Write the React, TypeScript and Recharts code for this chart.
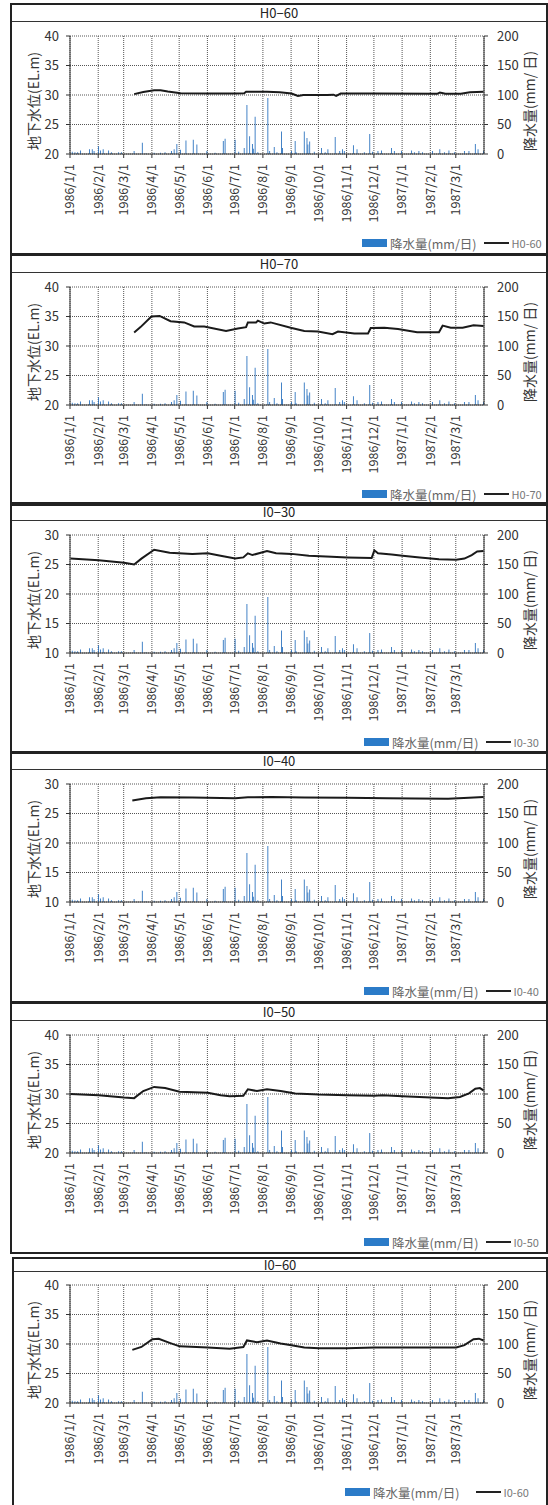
import React from 'react';
import { ComposedChart, Bar, Line, XAxis, YAxis, CartesianGrid } from 'recharts';

const FONT = "'Noto Sans CJK JP', 'Noto Sans', sans-serif";

// month-start ticks of the date axis (axis runs to 1987/4/1)
const MONTH_TICKS = [
  '1986/1/1', '1986/2/1', '1986/3/1', '1986/4/1', '1986/5/1', '1986/6/1', '1986/7/1', '1986/8/1',
  '1986/9/1', '1986/10/1', '1986/11/1', '1986/12/1', '1987/1/1', '1987/2/1', '1987/3/1',
];
const AXIS_START = '1986/1/1';
const AXIS_END = '1987/4/1';

const LEVEL_TICKS_HIGH = [20, 25, 30, 35, 40];
const LEVEL_TICKS_LOW = [10, 15, 20, 25, 30];
const RAIN_TICKS = [0, 50, 100, 150, 200];

// daily rainfall (mm/day), days not listed had no rain
const RAIN: [string, number][] = [
  ['1986/1/3', 4], ['1986/1/6', 3], ['1986/1/9', 3], ['1986/1/12', 6], ['1986/1/22', 8], ['1986/1/25', 8],
  ['1986/1/27', 5], ['1986/2/1', 13], ['1986/2/3', 6], ['1986/2/6', 8], ['1986/2/12', 6], ['1986/2/15', 3],
  ['1986/2/23', 3], ['1986/2/26', 3], ['1986/3/12', 5], ['1986/3/21', 19], ['1986/3/25', 1], ['1986/4/3', 2],
  ['1986/4/10', 2], ['1986/4/15', 3], ['1986/4/22', 5], ['1986/4/25', 8], ['1986/4/28', 17], ['1986/5/2', 7],
  ['1986/5/8', 23], ['1986/5/16', 24], ['1986/5/20', 16], ['1986/5/31', 5], ['1986/6/9', 2], ['1986/6/18', 22],
  ['1986/6/20', 26], ['1986/7/1', 24], ['1986/7/5', 4], ['1986/7/11', 10], ['1986/7/14', 83], ['1986/7/17', 30],
  ['1986/7/20', 17], ['1986/7/21', 9], ['1986/7/23', 63], ['1986/7/26', 3], ['1986/8/6', 95], ['1986/8/8', 5],
  ['1986/8/13', 12], ['1986/8/16', 3], ['1986/8/21', 38], ['1986/8/22', 10], ['1986/9/1', 5], ['1986/9/5', 22],
  ['1986/9/6', 3], ['1986/9/15', 38], ['1986/9/18', 27], ['1986/9/19', 16], ['1986/9/21', 21], ['1986/9/26', 4],
  ['1986/10/4', 10], ['1986/10/8', 3], ['1986/10/11', 8], ['1986/10/19', 29], ['1986/10/24', 5], ['1986/10/27', 8],
  ['1986/10/29', 5], ['1986/11/8', 15], ['1986/11/12', 8], ['1986/11/20', 3], ['1986/11/26', 34], ['1986/11/29', 4],
  ['1986/12/5', 5], ['1986/12/9', 6], ['1986/12/20', 10], ['1986/12/23', 5], ['1986/12/31', 5], ['1987/1/11', 6],
  ['1987/1/14', 3], ['1987/1/19', 5], ['1987/1/23', 3], ['1987/2/3', 5], ['1987/2/11', 8], ['1987/2/16', 3],
  ['1987/2/21', 6], ['1987/2/27', 3], ['1987/3/10', 5], ['1987/3/15', 5], ['1987/3/22', 17], ['1987/3/25', 8],
  ['1987/3/31', 5],
];

// groundwater level readings (EL.m)
const LEVEL_H0_60: [string, number][] = [
  ['1986/3/12', 30.15], ['1986/3/22', 30.5], ['1986/4/3', 30.8], ['1986/4/10', 30.8], ['1986/4/18', 30.6],
  ['1986/5/2', 30.3], ['1986/6/3', 30.25], ['1986/6/30', 30.25], ['1986/7/11', 30.3], ['1986/7/13', 30.55],
  ['1986/8/5', 30.55], ['1986/8/19', 30.45], ['1986/9/1', 30.25], ['1986/9/8', 29.85], ['1986/9/14', 30.0],
  ['1986/10/10', 30.0], ['1986/10/17', 30.05], ['1986/10/20', 29.85], ['1986/10/25', 30.25], ['1986/12/1', 30.25],
  ['1987/2/8', 30.2], ['1987/2/11', 30.4], ['1987/2/17', 30.2], ['1987/3/6', 30.2], ['1987/3/16', 30.45],
  ['1987/3/31', 30.55],
];
const LEVEL_H0_70: [string, number][] = [
  ['1986/3/12', 32.3], ['1986/3/19', 33.2], ['1986/3/31', 35.0], ['1986/4/9', 35.1], ['1986/4/21', 34.2],
  ['1986/5/6', 34.0], ['1986/5/17', 33.3], ['1986/5/28', 33.3], ['1986/6/21', 32.55], ['1986/7/4', 32.95],
  ['1986/7/13', 33.2], ['1986/7/15', 34.0], ['1986/7/24', 34.0], ['1986/7/26', 34.3], ['1986/8/2', 33.8],
  ['1986/8/9', 34.0], ['1986/8/31', 33.1], ['1986/9/15', 32.55], ['1986/9/30', 32.45], ['1986/10/16', 32.0],
  ['1986/10/22', 32.45], ['1986/11/9', 32.1], ['1986/11/24', 32.1], ['1986/11/27', 33.05], ['1986/12/12', 33.1],
  ['1986/12/27', 32.9], ['1987/1/17', 32.35], ['1987/2/10', 32.35], ['1987/2/14', 33.45], ['1987/2/23', 33.1],
  ['1987/3/8', 33.1], ['1987/3/20', 33.5], ['1987/3/31', 33.4],
];
const LEVEL_I0_30: [string, number][] = [
  ['1986/1/1', 26.0], ['1986/2/1', 25.7], ['1986/3/1', 25.3], ['1986/3/12', 25.0], ['1986/3/20', 26.0],
  ['1986/4/3', 27.5], ['1986/4/20', 27.0], ['1986/5/15', 26.8], ['1986/6/1', 26.9], ['1986/6/15', 26.5],
  ['1986/7/1', 26.0], ['1986/7/10', 26.2], ['1986/7/15', 26.9], ['1986/7/20', 26.6], ['1986/8/5', 27.3],
  ['1986/8/15', 26.9], ['1986/9/1', 26.8], ['1986/9/20', 26.5], ['1986/10/15', 26.3], ['1986/11/1', 26.2],
  ['1986/11/28', 26.1], ['1986/12/1', 27.4], ['1986/12/5', 26.9], ['1986/12/20', 26.7], ['1987/1/1', 26.5],
  ['1987/1/20', 26.2], ['1987/2/10', 25.9], ['1987/3/1', 25.8], ['1987/3/10', 26.0], ['1987/3/18', 26.6],
  ['1987/3/24', 27.2], ['1987/3/31', 27.3],
];
const LEVEL_I0_40: [string, number][] = [
  ['1986/3/10', 27.2], ['1986/3/25', 27.6], ['1986/4/10', 27.75], ['1986/5/15', 27.7], ['1986/7/1', 27.6],
  ['1986/7/15', 27.75], ['1986/8/10', 27.8], ['1986/9/15', 27.7], ['1986/11/1', 27.65], ['1986/12/15', 27.6],
  ['1987/1/15', 27.55], ['1987/2/20', 27.5], ['1987/3/15', 27.65], ['1987/3/31', 27.8],
];
const LEVEL_I0_50: [string, number][] = [
  ['1986/1/1', 30.0], ['1986/2/1', 29.8], ['1986/3/1', 29.4], ['1986/3/12', 29.3], ['1986/3/22', 30.5],
  ['1986/4/3', 31.2], ['1986/4/15', 31.0], ['1986/5/1', 30.4], ['1986/6/1', 30.2], ['1986/6/15', 29.8],
  ['1986/6/25', 29.6], ['1986/7/10', 29.7], ['1986/7/15', 30.8], ['1986/7/25', 30.5], ['1986/8/5', 30.8],
  ['1986/8/20', 30.5], ['1986/9/5', 30.1], ['1986/10/1', 29.9], ['1986/11/1', 29.8], ['1986/12/1', 29.7],
  ['1986/12/10', 29.8], ['1987/1/1', 29.6], ['1987/2/1', 29.4], ['1987/2/20', 29.3], ['1987/3/5', 29.5],
  ['1987/3/15', 30.1], ['1987/3/22', 30.9], ['1987/3/27', 31.0], ['1987/3/31', 30.6],
];
const LEVEL_I0_60: [string, number][] = [
  ['1986/3/10', 29.0], ['1986/3/20', 29.5], ['1986/4/1', 30.8], ['1986/4/8', 30.9], ['1986/4/20', 30.2],
  ['1986/5/1', 29.6], ['1986/6/1', 29.4], ['1986/6/25', 29.2], ['1986/7/10', 29.5], ['1986/7/14', 30.6],
  ['1986/7/25', 30.3], ['1986/8/5', 30.6], ['1986/8/20', 30.1], ['1986/9/1', 29.8], ['1986/9/15', 29.4],
  ['1986/10/1', 29.3], ['1986/11/1', 29.3], ['1986/12/1', 29.4], ['1987/1/1', 29.4], ['1987/2/1', 29.4],
  ['1987/3/1', 29.4], ['1987/3/10', 29.8], ['1987/3/20', 30.8], ['1987/3/26', 30.9], ['1987/3/31', 30.6],
];

const PANELS = [
  { name: 'H0-60', title: 'H0−60', levels: LEVEL_H0_60, ticks: LEVEL_TICKS_HIGH, top: 3, left: 10, titleH: 16, chartTop: 16, legendTop: 230, legendLeft: 362, legendGap: 7 },
  { name: 'H0-70', title: 'H0−70', levels: LEVEL_H0_70, ticks: LEVEL_TICKS_HIGH, top: 254, left: 10, titleH: 16, chartTop: 16, legendTop: 230, legendLeft: 362, legendGap: 7 },
  { name: 'I0-30', title: 'I0−30', levels: LEVEL_I0_30, ticks: LEVEL_TICKS_LOW, top: 502, left: 10, titleH: 16, chartTop: 16, legendTop: 230, legendLeft: 364, legendGap: 7 },
  { name: 'I0-40', title: 'I0−40', levels: LEVEL_I0_40, ticks: LEVEL_TICKS_LOW, top: 751, left: 10, titleH: 16, chartTop: 16, legendTop: 230, legendLeft: 364, legendGap: 7 },
  { name: 'I0-50', title: 'I0−50', levels: LEVEL_I0_50, ticks: LEVEL_TICKS_HIGH, top: 1002, left: 10, titleH: 16, chartTop: 16, legendTop: 230, legendLeft: 364, legendGap: 7 },
  { name: 'I0-60', title: 'I0−60', levels: LEVEL_I0_60, ticks: LEVEL_TICKS_HIGH, top: 1257, left: 12, titleH: 12, chartTop: 11, legendTop: 225, legendLeft: 345, legendGap: 16 },
];

function dayIndex(s: string) {
  const [y, m, d] = s.split('/').map(Number);
  const [y0, m0, d0] = AXIS_START.split('/').map(Number);
  return Math.round((Date.UTC(y, m - 1, d) - Date.UTC(y0, m0 - 1, d0)) / 86400000);
}

const TICK_DAYS = MONTH_TICKS.map(dayIndex);
const AXIS_DAYS = dayIndex(AXIS_END);

function buildRows(levels: [string, number][]) {
  const rain = new Map(RAIN.map(([d, v]) => [dayIndex(d), v]));
  const lev = new Map(levels.map(([d, v]) => [dayIndex(d), v]));
  const rows: { x: number; rain: number | null; level: number | null }[] = [];
  for (let i = 0; i < AXIS_DAYS; i++) {
    rows.push({ x: i + 0.5, rain: rain.get(i) ?? null, level: lev.get(i) ?? null });
  }
  return rows;
}

const DateTick = (props: any) => {
  const { x, y, payload } = props;
  const label = MONTH_TICKS[TICK_DAYS.indexOf(payload.value)] ?? '';
  return (
    <text x={x} y={y} transform={`rotate(-90, ${x}, ${y})`} textAnchor="end" dy="0.35em"
      fontSize={12.5} fill="#333" fontFamily={FONT}>
      {label}
    </text>
  );
};

const leftTitle = () => (
  <text x={34} y={80} transform="rotate(-90, 34, 80)" textAnchor="middle" dy="0.35em"
    fontSize={14} fill="#333" fontFamily={FONT}>地下水位(EL.m)</text>
);

const rightTitle = () => (
  <text x={530} y={80} transform="rotate(-90, 530, 80)" textAnchor="middle" dy="0.35em"
    fontSize={14} fill="#333" fontFamily={FONT}>降水量(mm/ 日)</text>
);

function Panel({ p }: { p: (typeof PANELS)[number] }) {
  const data = buildRows(p.levels);
  const lo = p.ticks[0];
  const hi = p.ticks[p.ticks.length - 1];
  return (
    <div style={{
      position: 'absolute', left: p.left, top: p.top, width: 548 - p.left, height: 252,
      border: '2px solid #222', boxSizing: 'border-box', fontFamily: FONT,
    }}>
      <div style={{
        height: p.titleH, borderBottom: '1px solid #333', textAlign: 'center', fontSize: 13,
        lineHeight: `${p.titleH}px`, color: '#222',
      }}>{p.title}</div>
      <div style={{ position: 'absolute', left: -p.left - 2, top: p.chartTop }}>
        <ComposedChart width={548} height={232} data={data}
          margin={{ top: 15, right: 12, bottom: 0, left: 12 }}>
          <CartesianGrid yAxisId="left" stroke="#555" strokeDasharray="1 1" />
          <XAxis dataKey="x" type="number" domain={[0, AXIS_DAYS]} ticks={TICK_DAYS} interval={0}
            height={99} tick={<DateTick />} tickSize={4} tickMargin={6}
            axisLine={{ stroke: '#333' }} tickLine={{ stroke: '#333' }} allowDataOverflow />
          <YAxis yAxisId="left" domain={[lo, hi]} ticks={p.ticks} width={58} tickSize={4} tickMargin={7}
            tick={{ fontSize: 13, fill: '#333', fontFamily: FONT }}
            axisLine={{ stroke: '#333' }} tickLine={{ stroke: '#333' }} label={leftTitle} />
          <YAxis yAxisId="right" orientation="right" domain={[0, 200]} ticks={RAIN_TICKS} width={52}
            tickSize={4} tickMargin={9} tick={{ fontSize: 13, fill: '#333', fontFamily: FONT, textAnchor: 'start' }}
            axisLine={{ stroke: '#333' }} tickLine={{ stroke: '#333' }} label={rightTitle} />
          <Bar yAxisId="right" dataKey="rain" fill="#1B68BA" barSize={2.6} isAnimationActive={false} />
          <Line yAxisId="left" dataKey="level" type="linear" stroke="#1a1a1a" strokeWidth={2}
            dot={false} connectNulls isAnimationActive={false} />
        </ComposedChart>
      </div>
      <div style={{
        position: 'absolute', top: p.legendTop, left: p.legendLeft - p.left - 2, display: 'flex',
        alignItems: 'center', height: 16, whiteSpace: 'nowrap',
      }}>
        <span style={{ display: 'inline-block', width: 25, height: 8, background: '#2B7BC8' }} />
        <span style={{ fontSize: 12.5, color: '#666', marginLeft: 3 }}>降水量(mm/日)</span>
        <span style={{ display: 'inline-block', width: 25, height: 2, background: '#222', marginLeft: p.legendGap }} />
        <span style={{ fontSize: 11, color: '#777', marginLeft: 3 }}>{p.name}</span>
      </div>
    </div>
  );
}

export default function App() {
  return (
    <div style={{ position: 'absolute', left: 0, top: 0, width: 548, height: 1505, overflow: 'hidden', background: '#fff' }}>
      {PANELS.map((p) => <Panel key={p.name} p={p} />)}
    </div>
  );
}
